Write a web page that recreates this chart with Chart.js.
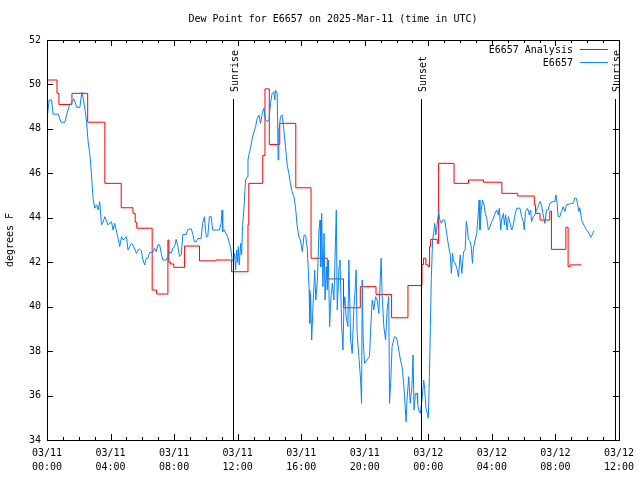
<!DOCTYPE html>
<html>
<head>
<meta charset="utf-8">
<script src="https://cdn.jsdelivr.net/npm/chart.js@4/dist/chart.umd.min.js"></script>
<style>
  html, body { margin: 0; padding: 0; background: #fff; }
  canvas { display: block; }
</style>
</head>
<body>
<canvas id="chart" width="640" height="480"></canvas>
<script>
// hores des de 03/11 00:00 UTC
const analysisHours = [0.00, 0.63, 0.75, 1.57, 2.56, 3.64, 4.67, 5.41, 5.55, 5.65, 6.62, 6.90, 7.61, 7.67, 7.78, 7.98,
  8.66, 9.60, 10.64, 11.62, 12.65, 12.70, 13.58, 13.72, 13.99, 14.65, 15.66, 16.62, 17.64, 18.66, 19.72, 20.71,
  21.69, 22.72, 23.60, 23.70, 23.85, 24.00, 24.08, 24.15, 24.56, 24.65, 25.62, 26.53, 27.47, 28.63, 29.63, 30.67,
  30.75, 31.03, 31.65, 31.75, 32.66, 32.80, 32.93, 33.64];
const analysisTemps = [50.20, 49.60, 49.10, 49.60, 48.30, 45.55, 44.45, 44.20, 43.80, 43.53, 40.75, 40.57, 43.00, 42.00, 41.92, 41.77,
  42.73, 42.06, 42.10, 41.57, 43.70, 45.55, 46.80, 49.80, 47.30, 48.25, 45.35, 42.18, 41.25, 39.95, 40.90, 40.55,
  39.50, 40.95, 41.90, 42.18, 41.88, 41.80, 42.70, 43.03, 42.85, 46.45, 45.55, 45.70, 45.60, 45.10, 44.98, 44.58,
  44.20, 43.90, 44.30, 42.58, 43.57, 41.80, 41.88, 41.88];

const obsHours = [0.00, 0.13, 0.29, 0.38, 0.71, 0.88, 1.13, 1.25, 1.38, 1.69, 1.88, 2.07, 2.19, 2.28, 2.38, 2.49,
  2.59, 2.70, 2.80, 2.90, 3.01, 3.12, 3.22, 3.32, 3.43, 3.53, 3.64, 3.84, 4.06, 4.16, 4.26, 4.47,
  4.58, 4.69, 4.79, 5.00, 5.10, 5.31, 5.41, 5.63, 5.73, 5.83, 5.94, 6.04, 6.15, 6.25, 6.35, 6.46,
  6.67, 6.77, 6.88, 6.98, 7.09, 7.19, 7.29, 7.51, 7.61, 7.71, 7.82, 7.92, 8.03, 8.13, 8.24, 8.34,
  8.45, 8.55, 8.76, 8.86, 9.08, 9.18, 9.28, 9.39, 9.49, 9.70, 9.80, 9.91, 10.02, 10.12, 10.22, 10.33,
  10.43, 10.85, 10.96, 11.02, 11.06, 11.16, 11.37, 11.48, 11.58, 11.65, 11.73, 11.81, 11.87, 11.94, 12.00, 12.04,
  12.10, 12.19, 12.25, 12.31, 12.40, 12.50, 12.61, 12.65, 12.71, 12.81, 12.92, 13.03, 13.13, 13.23, 13.34, 13.44,
  13.55, 13.65, 13.75, 13.86, 13.97, 14.07, 14.17, 14.28, 14.34, 14.38, 14.49, 14.55, 14.59, 14.70, 14.80, 14.91,
  15.01, 15.12, 15.22, 15.32, 15.43, 15.54, 15.64, 15.74, 15.85, 15.95, 16.07, 16.18, 16.28, 16.39, 16.50, 16.54,
  16.59, 16.66, 16.75, 16.85, 16.92, 17.02, 17.12, 17.19, 17.23, 17.29, 17.37, 17.44, 17.50, 17.58, 17.64, 17.71,
  17.79, 17.86, 17.96, 18.06, 18.21, 18.27, 18.38, 18.44, 18.55, 18.63, 18.69, 18.75, 18.83, 18.94, 19.00, 19.11,
  19.21, 19.32, 19.38, 19.46, 19.52, 19.63, 19.74, 19.80, 19.84, 19.90, 19.99, 20.13, 20.30, 20.37, 20.47, 20.57,
  20.68, 20.78, 20.89, 21.03, 21.09, 21.20, 21.31, 21.41, 21.51, 21.56, 21.64, 21.72, 21.87, 22.01, 22.14, 22.25,
  22.35, 22.45, 22.52, 22.60, 22.66, 22.77, 22.86, 22.97, 23.04, 23.10, 23.19, 23.29, 23.33, 23.39, 23.50, 23.60,
  23.71, 23.77, 23.85, 23.94, 24.00, 24.07, 24.13, 24.19, 24.27, 24.34, 24.40, 24.48, 24.59, 24.65, 24.73, 24.82,
  24.90, 25.03, 25.11, 25.19, 25.28, 25.38, 25.45, 25.53, 25.59, 25.70, 25.80, 25.90, 26.01, 26.11, 26.22, 26.32,
  26.39, 26.45, 26.53, 26.64, 26.70, 26.78, 26.84, 26.95, 27.05, 27.16, 27.20, 27.25, 27.33, 27.41, 27.51, 27.58,
  27.68, 27.78, 27.89, 27.99, 28.10, 28.20, 28.31, 28.41, 28.47, 28.56, 28.62, 28.73, 28.79, 28.87, 28.96, 29.04,
  29.15, 29.25, 29.35, 29.46, 29.56, 29.77, 29.87, 29.98, 30.04, 30.12, 30.25, 30.36, 30.44, 30.50, 30.61, 30.71,
  30.81, 30.92, 31.03, 31.13, 31.23, 31.34, 31.44, 31.55, 31.65, 31.86, 31.97, 32.03, 32.11, 32.17, 32.28, 32.38,
  32.49, 32.60, 32.70, 33.01, 33.12, 33.22, 33.32, 33.39, 33.47, 33.54, 33.60, 33.68, 33.85, 33.95, 34.06, 34.16,
  34.23, 34.31, 34.43];
const obsTemps = [48.40, 49.30, 49.30, 48.66, 48.66, 48.30, 48.30, 48.66, 49.00, 49.35, 48.97, 48.97, 49.65, 49.38, 48.93, 48.33,
  47.42, 46.83, 45.93, 44.88, 44.43, 44.58, 44.35, 44.72, 43.68, 43.81, 44.05, 43.68, 43.82, 43.45, 43.75, 43.08,
  42.70, 43.15, 43.00, 43.15, 42.55, 42.85, 42.78, 42.40, 42.55, 42.60, 42.50, 42.10, 41.88, 42.18, 42.18, 42.44,
  42.44, 42.63, 42.48, 42.78, 42.78, 42.40, 42.10, 42.10, 42.25, 42.48, 42.40, 42.63, 42.70, 43.03, 42.70, 42.25,
  42.33, 43.25, 43.25, 43.47, 43.50, 43.25, 42.92, 42.92, 43.07, 43.07, 43.75, 44.05, 43.15, 43.15, 44.05, 44.05,
  43.45, 43.45, 43.75, 44.35, 43.38, 43.45, 43.15, 42.85, 42.55, 42.10, 42.03, 42.40, 41.65, 42.55, 42.00, 42.70,
  41.88, 42.85, 42.33, 43.60, 44.50, 45.70, 45.85, 46.60, 46.83, 47.13, 47.58, 47.87, 48.10, 48.47, 48.62, 48.25,
  48.70, 48.93, 48.43, 48.33, 48.40, 49.15, 49.60, 49.67, 49.30, 49.75, 49.60, 46.60, 47.95, 48.55, 48.63, 47.95,
  47.20, 46.38, 46.00, 45.55, 45.17, 44.95, 44.50, 43.68, 43.15, 43.00, 42.47, 43.23, 43.20, 42.55, 40.75, 39.25,
  40.60, 38.50, 40.15, 41.65, 40.30, 41.20, 43.45, 43.90, 41.80, 44.20, 40.90, 43.30, 40.30, 41.80, 40.75, 42.10,
  39.10, 40.30, 41.05, 40.30, 44.35, 39.85, 41.80, 42.10, 39.10, 38.05, 40.00, 40.45, 39.55, 39.10, 42.10, 38.50,
  37.90, 40.00, 40.60, 41.65, 38.80, 37.75, 36.70, 35.65, 41.20, 38.50, 37.45, 37.60, 37.75, 38.95, 40.30, 39.85,
  40.45, 40.30, 39.70, 42.18, 40.60, 39.10, 38.50, 39.85, 40.45, 35.65, 36.70, 38.20, 38.65, 38.60, 38.05, 37.60,
  37.30, 36.55, 35.80, 34.82, 35.80, 36.85, 35.65, 36.40, 37.83, 35.35, 36.10, 36.10, 35.65, 35.35, 35.20, 35.80,
  36.70, 36.33, 35.43, 35.20, 34.98, 36.85, 39.10, 41.28, 43.00, 43.30, 43.75, 43.23, 43.90, 44.27, 43.90, 43.75,
  43.90, 43.90, 43.53, 43.15, 42.70, 42.33, 41.50, 42.40, 42.03, 41.95, 41.72, 41.35, 42.33, 41.50, 42.47, 42.55,
  43.83, 43.60, 43.00, 42.93, 42.70, 41.95, 42.63, 43.00, 43.30, 44.35, 44.80, 43.45, 44.35, 44.80, 44.58, 44.20,
  43.98, 43.45, 43.60, 43.83, 43.98, 44.20, 44.35, 44.13, 44.43, 43.45, 43.90, 44.20, 43.68, 44.13, 43.45, 44.05,
  43.75, 43.45, 43.68, 44.13, 44.43, 44.43, 44.05, 43.83, 43.45, 44.28, 44.43, 44.13, 44.35, 43.83, 44.05, 44.13,
  44.35, 44.50, 44.73, 44.58, 44.13, 43.75, 44.35, 44.35, 44.65, 44.73, 44.73, 45.03, 44.65, 44.05, 44.05, 44.28,
  44.50, 44.28, 44.58, 44.65, 44.65, 44.88, 44.88, 44.65, 44.28, 44.45, 44.13, 43.83, 43.60, 43.45, 43.38, 43.23,
  43.12, 43.23, 43.42];

const xTickLabels = [['03/11', '00:00'], ['03/11', '04:00'], ['03/11', '08:00'], ['03/11', '12:00'], ['03/11', '16:00'],
  ['03/11', '20:00'], ['03/12', '00:00'], ['03/12', '04:00'], ['03/12', '08:00'], ['03/12', '12:00']];

const sunHours = [11.73, 23.54, 35.76];
const sunLabels = ['Sunrise', 'Sunset', 'Sunrise'];

const seriesNames = ['E6657 Analysis', 'E6657'];
const seriesColors = ['#ff0000', '#0a84ff'];
const chartTitle = 'Dew Point for E6657 on 2025-Mar-11 (time in UTC)';
const yTitle = 'degrees F';

const FONT = "'DejaVu Sans Mono', monospace";

const toPoints = (xs, ys) => xs.map((h, i) => ({ x: h, y: ys[i] }));

// tot el que gnuplot dibuixa a mà: marc, marques cap endins, sortida/posta del sol, títol i llegenda
const decor = {
  id: 'decor',
  afterDraw(chart) {
    const { ctx, chartArea: a, scales: { x, y } } = chart;
    ctx.save();
    ctx.strokeStyle = '#000';
    ctx.fillStyle = '#000';
    ctx.lineWidth = 1;
    ctx.font = '10px ' + FONT;

    // marques de l'eix x (cada hora, grans cada 4)
    for (let h = 0; h <= 36; h++) {
      const px = Math.round(x.getPixelForValue(h)) + 0.5;
      const len = h % 4 === 0 ? 6 : 3;
      ctx.beginPath();
      ctx.moveTo(px, a.bottom); ctx.lineTo(px, a.bottom - len);
      ctx.moveTo(px, a.top); ctx.lineTo(px, a.top + len);
      ctx.stroke();
    }
    // marques de l'eix y
    for (let v = 34; v <= 52; v += 2) {
      const py = Math.round(y.getPixelForValue(v)) + 0.5;
      ctx.beginPath();
      ctx.moveTo(a.left, py); ctx.lineTo(a.left + 6, py);
      ctx.moveTo(a.right, py); ctx.lineTo(a.right - 6, py);
      ctx.stroke();
    }

    // línies de sortida i posta del sol
    sunHours.forEach((h, i) => {
      const px = Math.round(x.getPixelForValue(h)) + 0.5;
      ctx.beginPath();
      ctx.moveTo(px, a.top + 59);
      ctx.lineTo(px, a.bottom);
      ctx.stroke();
      ctx.save();
      ctx.translate(px + 2, a.top + 52);
      ctx.rotate(-Math.PI / 2);
      ctx.textAlign = 'left';
      ctx.textBaseline = 'middle';
      ctx.fillText(sunLabels[i], 0, 0);
      ctx.restore();
    });

    // marc
    ctx.strokeRect(a.left + 0.5, a.top + 0.5, a.right - a.left, a.bottom - a.top);

    // títol
    ctx.textAlign = 'center';
    ctx.textBaseline = 'middle';
    ctx.fillText(chartTitle, (a.left + a.right) / 2, 19);

    // títol de l'eix y
    ctx.save();
    ctx.translate(10, (a.top + a.bottom) / 2);
    ctx.rotate(-Math.PI / 2);
    ctx.fillText(yTitle, 0, 0);
    ctx.restore();

    // llegenda
    ctx.textAlign = 'right';
    seriesNames.forEach((name, i) => {
      const ly = a.top + 10 + i * 13;
      ctx.fillStyle = '#000';
      ctx.fillText(name, a.right - 46, ly);
      ctx.strokeStyle = seriesColors[i];
      ctx.beginPath();
      ctx.moveTo(a.right - 39, ly - 0.5);
      ctx.lineTo(a.right - 11, ly - 0.5);
      ctx.stroke();
    });
    ctx.restore();
  }
};

const ctx = document.getElementById('chart').getContext('2d');
new Chart(ctx, {
  type: 'line',
  data: {
    datasets: [
      {
        label: seriesNames[0],
        data: toPoints(analysisHours, analysisTemps),
        borderColor: seriesColors[0],
        borderWidth: 1,
        pointRadius: 0,
        stepped: 'before',
        fill: false,
        order: 1
      },
      {
        label: seriesNames[1],
        data: toPoints(obsHours, obsTemps),
        borderColor: seriesColors[1],
        borderWidth: 1,
        pointRadius: 0,
        tension: 0,
        fill: false,
        order: 0
      }
    ]
  },
  options: {
    responsive: false,
    animation: false,
    devicePixelRatio: 1,
    layout: { padding: { top: 40, right: 19, left: 0, bottom: 0 } },
    plugins: { legend: { display: false }, tooltip: { enabled: false }, title: { display: false } },
    scales: {
      x: {
        type: 'linear',
        min: 0,
        max: 36,
        grid: { display: false, drawTicks: false },
        border: { display: false },
        ticks: {
          stepSize: 4,
          autoSkip: false,
          maxRotation: 0,
          padding: 6,
          color: '#000',
          font: { family: FONT, size: 10, lineHeight: 1.4 },
          callback: (v, i) => xTickLabels[i]
        },
        afterFit: (s) => { s.height = 40; }
      },
      y: {
        min: 34,
        max: 52,
        grid: { display: false, drawTicks: false },
        border: { display: false },
        ticks: {
          stepSize: 2,
          padding: 6,
          color: '#000',
          font: { family: FONT, size: 10 }
        },
        afterFit: (s) => { s.width = 47; }
      }
    }
  },
  plugins: [decor]
});
</script>
</body>
</html>
